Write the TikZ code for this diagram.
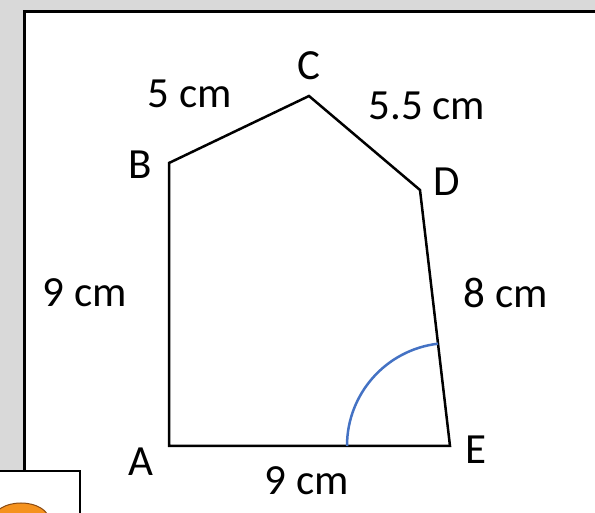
\documentclass[tikz,border=0pt]{standalone}
\usepackage{fontspec}
\setmainfont{Carlito}
\usetikzlibrary{calc}
\definecolor{GrisFondo}{HTML}{D9D9D9}
\definecolor{AzulArco}{HTML}{4472C4}
\definecolor{Naranja}{HTML}{F5921E}
\definecolor{NaranjaOsc}{HTML}{8A4A12}

\begin{document}
\begin{tikzpicture}[
    x=1pt, y=1pt,
    etiqueta/.style={font=\fontsize{43}{50}\selectfont, inner sep=0pt},
    lado/.style={line width=2.5pt, line join=miter},
    arco/.style={color=AzulArco, line width=2.5pt}
]
    \useasboundingbox (0,0) rectangle (595,513);
    \clip (0,0) rectangle (595,513);

    % 1. Fondo y marco de la diapositiva
    \fill[GrisFondo] (0,0) rectangle (595,513);
    \draw[fill=white, line width=3pt] (24,-20) rectangle (596,501);

    % 2. Vertices del pentagono
    \coordinate (A) at (169,67);
    \coordinate (B) at (169,350);
    \coordinate (C) at (309,417);
    \coordinate (D) at (420,323);
    \coordinate (E) at (450,67);

    \draw[lado] (A) -- (B) -- (C) -- (D) -- (E) -- cycle;

    % 3. Arco del angulo en E
    \draw[arco] ($(E)+(-103,0)$) arc[start angle=180, end angle=96.7, radius=103];

    % 4. Nombres de los vertices
    \node[etiqueta] (lA) at (141,51) {A};
    \node[etiqueta] (lB) at (140,348) {B};
    \node[etiqueta] (lC) at (309,447) {C};
    \node[etiqueta] (lD) at (447,331) {D};
    \node[etiqueta] (lE) at (476,63) {E};

    % 5. Medidas de los lados
    \node[etiqueta] (ab) at (85,220) {9 cm};
    \node[etiqueta] (bc) at (190,419) {5 cm};
    \node[etiqueta] (cd) at (427,407) {5.5 cm};
    \node[etiqueta] (de) at (506,220) {8 cm};
    \node[etiqueta] (ea) at (307,32) {9 cm};

    % 6. Recuadro inferior con la figura naranja
    \draw[fill=white, line width=2pt] (-10,-10) rectangle (80,42);
    \draw[fill=Naranja, draw=NaranjaOsc, line width=1pt] (21,-7) ellipse[x radius=28, y radius=17];
\end{tikzpicture}
\end{document}
